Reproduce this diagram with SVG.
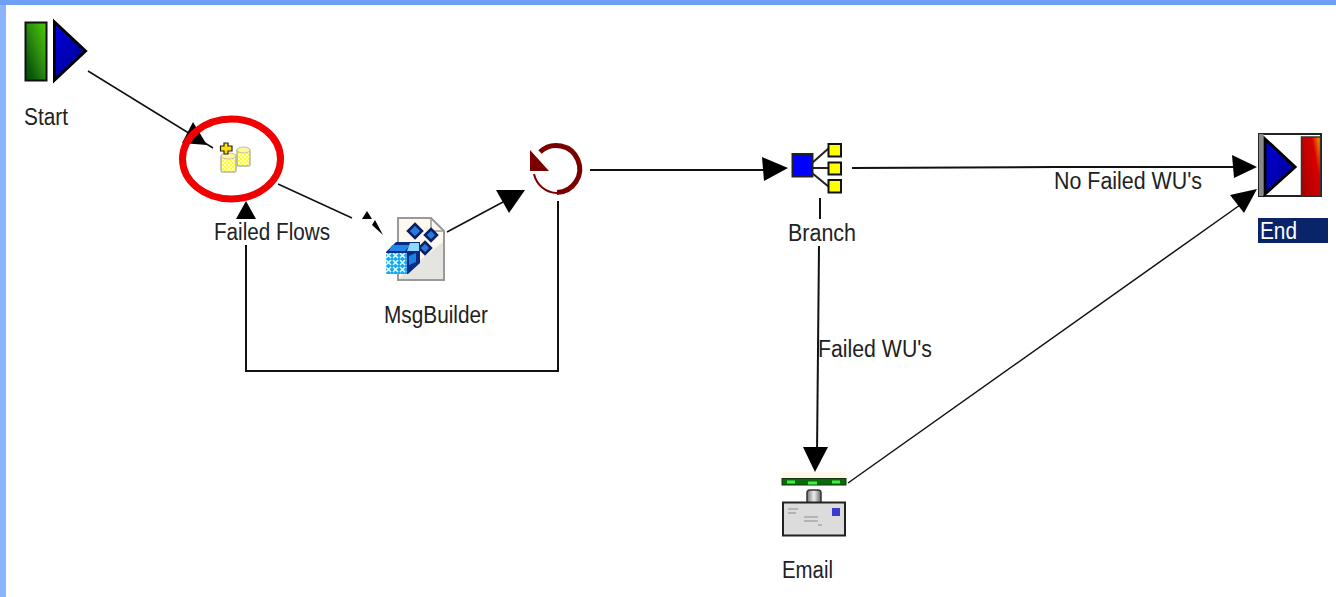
<svg xmlns="http://www.w3.org/2000/svg" width="1336" height="597" viewBox="0 0 1336 597">
<defs>
<linearGradient id="green" x1="1" y1="0" x2="0" y2="1"><stop offset="0" stop-color="#4ccc00"/><stop offset="0.45" stop-color="#2f8f10"/><stop offset="0.8" stop-color="#0b5a0b"/><stop offset="1" stop-color="#064a06"/></linearGradient>
<linearGradient id="blue" x1="0" y1="0" x2="1" y2="1"><stop offset="0" stop-color="#0000e0"/><stop offset="1" stop-color="#000088"/></linearGradient>
<linearGradient id="red" x1="1" y1="0" x2="0" y2="0.6"><stop offset="0" stop-color="#f4b000"/><stop offset="0.35" stop-color="#d80000"/><stop offset="1" stop-color="#b00000"/></linearGradient>
<linearGradient id="bar" x1="0" y1="0" x2="1" y2="0"><stop offset="0" stop-color="#777"/><stop offset="0.5" stop-color="#eee"/><stop offset="1" stop-color="#666"/></linearGradient>
<pattern id="check" width="4" height="4" patternUnits="userSpaceOnUse"><rect width="4" height="4" fill="#ffff20"/><rect width="2" height="2" fill="#fffbd0"/><rect x="2" y="2" width="2" height="2" fill="#fffbd0"/></pattern>
<pattern id="cells" width="7" height="7" patternUnits="userSpaceOnUse"><rect width="7" height="7" fill="#18a8f0"/><path d="M1 1L6 6M6 1L1 6" stroke="#e8ffff" stroke-width="1.500"/></pattern>
</defs>
<style>
text{font-family:"Liberation Sans",Arial,sans-serif;font-size:23px;fill:#222}
.c{fill:none;stroke:#111;stroke-width:1.500}
.h{fill:none;stroke:#111;stroke-width:2}
.a{fill:#000}
.y{fill:#ffff00;stroke:#111;stroke-width:2}
.db{fill:url(#check);stroke:#b4b4a4;stroke-width:1.500}
.dt{fill:#fff59a;stroke:#c0c0b0;stroke-width:1}
.dm{stroke:#0a1f66;stroke-width:2.500;fill:#2a78d8}
.lines{fill:none;stroke:#b4b4b4;stroke-width:2}
</style>
<rect width="1336" height="597" fill="#fff"/>
<rect width="6" height="597" fill="#8ab4fb"/>
<rect width="1336" height="5" fill="#6e9ff5"/>
<g id="connectors">
<path class="c" d="M88 71L213 148"/>
<path class="a" d="M193 122L207 145L182 143Z"/>
<path class="c" d="M278 184L352 218"/>
<path class="a" d="M362 219L367 211L372 219Z"/>
<path class="a" d="M372 225L375 220L383 235Z"/>
<path class="c" d="M447 232L503 202"/>
<path class="a" d="M496 190H525L509 213Z"/>
<path class="h" d="M558 201V371H246V245"/>
<path class="a" d="M246 201L256 219H236Z"/>
<path class="h" d="M590 170H770"/>
<path class="a" d="M762 157L788 168L764 181Z"/>
<path class="h" d="M852 168L1055 167H1240"/>
<path class="a" d="M1232 155L1257 167L1234 178Z"/>
<path class="h" d="M820 198V219"/>
<path class="h" d="M819 246L817 455"/>
<path class="a" d="M803 447H828L815 472Z"/>
<path class="c" d="M848 483L1240 205"/>
<path class="a" d="M1230 195L1257 189L1244 213Z"/>
</g>
<g id="start">
<rect x="25.500" y="22.500" width="21" height="58" fill="url(#green)" stroke="#111" stroke-width="2"/>
<path d="M54.500 22L85.500 51L54.500 80Z" fill="url(#blue)" stroke="#000" stroke-width="3"/>
<text x="24" y="125" textLength="44" lengthAdjust="spacingAndGlyphs">Start</text>
</g>
<g id="failed-flows">
<ellipse cx="231.500" cy="159" rx="49" ry="40" fill="none" stroke="#f00000" stroke-width="7"/>
<rect x="237" y="149" width="13" height="17" rx="2" class="db"/>
<ellipse cx="243.500" cy="150" rx="6.500" ry="3" class="dt"/>
<rect x="221" y="155" width="15" height="17" rx="2" class="db"/>
<ellipse cx="228.500" cy="156" rx="7.500" ry="3" class="dt"/>
<path d="M224 143H228V146H232V151H228V154H224V151H220.500V146H224Z" fill="#ffe000" stroke="#222" stroke-width="1.200"/>
<text x="214" y="240" textLength="116" lengthAdjust="spacingAndGlyphs">Failed Flows</text>
</g>
<g id="msgbuilder">
<path d="M398 218H431L444 231V280H398Z" fill="#fdf9ee" stroke="#999" stroke-width="2"/>
<path d="M405 272L443 242V279H399Z" fill="#e4e4e0"/>
<path d="M431 218V231H444" fill="none" stroke="#999" stroke-width="1.500"/>
<path d="M415 224L422 231L415 238L408 231Z" class="dm"/>
<path d="M431 229L437 235L431 241L425 235Z" class="dm"/>
<path d="M425 242L431 248L425 254L419 248Z" class="dm"/>
<path d="M386 252L396 242H420V263L408 274H386Z" fill="#0a2a88"/>
<rect x="386" y="253" width="21" height="21" fill="url(#cells)"/>
<path d="M392 245H410L405 251H389Z" fill="#1e88e8"/>
<path d="M410 243H419V251H407Z" fill="#8fd8ff"/>
<path d="M409 256L416 253V262L409 265Z" fill="#1e80e0"/>
<text x="384" y="323" textLength="104" lengthAdjust="spacingAndGlyphs">MsgBuilder</text>
</g>
<g id="loop">
<path d="M540 152A23.500 23.500 0 1 1 557 192.500" fill="none" stroke="#7a0000" stroke-width="5"/>
<path d="M557 193A24 24 0 0 1 534 174" fill="none" stroke="#7a0000" stroke-width="2"/>
<path d="M530 150L549 171H530Z" fill="#7a0000"/>
</g>
<g id="branch">
<path d="M812 163L829 148M812 168H829M812 173L829 187" fill="none" stroke="#222" stroke-width="2"/>
<rect x="792.500" y="154" width="20" height="22.500" fill="#0000ff" stroke="#222" stroke-width="2"/>
<rect x="828.500" y="144" width="12.500" height="12.500" class="y"/>
<rect x="828.500" y="162.500" width="12.500" height="12" class="y"/>
<rect x="828.500" y="180" width="12.500" height="12.500" class="y"/>
<text x="788" y="241" textLength="68" lengthAdjust="spacingAndGlyphs">Branch</text>
</g>
<g id="end">
<rect x="1259" y="134" width="62" height="62" fill="#fff" stroke="#222" stroke-width="2"/>
<rect x="1259" y="134" width="4.500" height="62" fill="#888"/>
<path d="M1265 139L1295 167L1265 194Z" fill="url(#blue)" stroke="#000" stroke-width="3"/>
<rect x="1301.500" y="137" width="19" height="59" fill="url(#red)" stroke="#333" stroke-width="1.500"/>
<rect x="1258" y="218" width="70" height="25" fill="#0a246a"/>
<text x="1260" y="239" textLength="37" lengthAdjust="spacingAndGlyphs" style="fill:#fff">End</text>
</g>
<g id="email">
<rect x="782" y="472" width="64" height="14" fill="#fff8e8"/>
<rect x="782" y="478.500" width="64" height="6.500" fill="#0a6a0a" stroke="#113311"/>
<path d="M787 482h8M808 483h9M832 482h8" stroke="#44ee44" stroke-width="3"/>
<rect x="807" y="490" width="14" height="15" rx="3" fill="url(#bar)" stroke="#333" stroke-width="1.500"/>
<rect x="783" y="502.500" width="62" height="33" fill="#dcdcdc" stroke="#222" stroke-width="2"/>
<rect x="832" y="508" width="8" height="8" fill="#3a3acc"/>
<path d="M788 509h10M788 513h8M804 517h14M804 521h14M818 525h4" class="lines"/>
<text x="782" y="578" textLength="51" lengthAdjust="spacingAndGlyphs">Email</text>
</g>
<g id="labels">
<text x="1054" y="189" textLength="148" lengthAdjust="spacingAndGlyphs">No Failed WU's</text>
<text x="818" y="357" textLength="114" lengthAdjust="spacingAndGlyphs">Failed WU's</text>
</g>
</svg>
